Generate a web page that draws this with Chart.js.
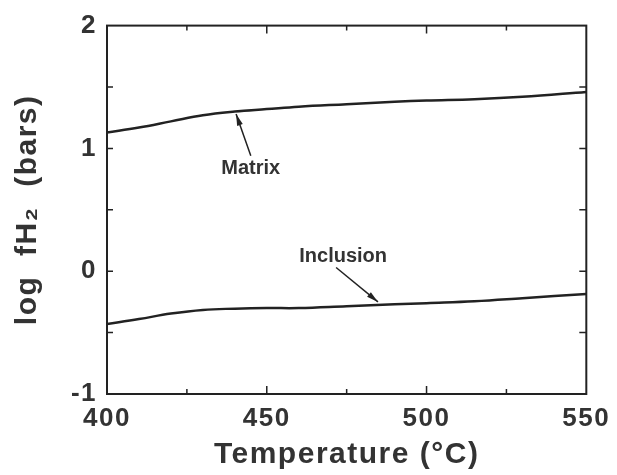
<!DOCTYPE html>
<html>
<head>
<meta charset="utf-8">
<script src="https://cdn.jsdelivr.net/npm/chart.js@4.4.1/dist/chart.umd.min.js"></script>
<style>
html, body { margin: 0; padding: 0; background: #fff; }
#wrap { width: 617px; height: 475px; }
</style>
</head>
<body>
<div id="wrap"><canvas id="fh2Chart"></canvas></div>
<script>
// values
const temps = [400, 410, 420, 430, 440, 450, 460, 475, 490, 500, 515, 530, 550];
const matrixLogF = [1.13, 1.17, 1.22, 1.27, 1.30, 1.32, 1.34, 1.36, 1.38, 1.39, 1.40, 1.42, 1.46];
const inclusionLogF = [-0.43, -0.39, -0.345, -0.315, -0.305, -0.30, -0.30, -0.285, -0.27, -0.26, -0.245, -0.22, -0.185];
const xMinorTicks = [425, 475, 525];
const xMajorTicks = [450, 500];
const yInnerTicks = [-0.5, 0, 0.5, 1, 1.5];

// labels with arrows, in data units
const labelNames = ['Matrix', 'Inclusion'];
const labelAt = [[445, 0.84], [473.9, 0.117]];
const arrowFrom = [[445, 0.94], [471.7, 0.03]];
const arrowTo = [[440.4, 1.28], [484.8, -0.25]];

const FONT = '"Liberation Sans", Arial, Helvetica, sans-serif';
const INK = '#222';
const TEXT = '#333';

const toPoints = (xs, ys) => xs.map((x, i) => ({ x: x, y: ys[i] }));

const framePlugin = {
    id: 'frame',
    beforeDraw(chart) {
        // the printed figure has slightly spaced lettering
        chart.ctx.letterSpacing = '1.5px';
    },
    beforeDatasetsDraw(chart) {
        chart.ctx.letterSpacing = '0px';
    },
    afterDraw(chart) {
        const ctx = chart.ctx;
        const a = chart.chartArea;
        const sx = chart.scales.x;
        const sy = chart.scales.y;
        ctx.save();
        ctx.letterSpacing = '0px';
        ctx.strokeStyle = INK;
        ctx.lineWidth = 2;
        ctx.strokeRect(a.left, a.top, a.right - a.left, a.bottom - a.top);

        // inward ticks on all sides
        ctx.lineWidth = 1.5;
        ctx.beginPath();
        xMajorTicks.concat(xMinorTicks).forEach(v => {
            const px = sx.getPixelForValue(v);
            const len = xMajorTicks.includes(v) ? 8 : 5;
            ctx.moveTo(px, a.bottom);
            ctx.lineTo(px, a.bottom - len);
            ctx.moveTo(px, a.top);
            ctx.lineTo(px, a.top + len);
        });
        yInnerTicks.forEach(v => {
            const py = sy.getPixelForValue(v);
            ctx.moveTo(a.left, py);
            ctx.lineTo(a.left + 6, py);
            ctx.moveTo(a.right, py);
            ctx.lineTo(a.right - 7, py);
        });
        ctx.stroke();

        // labels and arrows
        ctx.font = 'bold 20px ' + FONT;
        ctx.textAlign = 'center';
        ctx.textBaseline = 'middle';
        labelNames.forEach((name, i) => {
            ctx.fillStyle = TEXT;
            ctx.fillText(name, sx.getPixelForValue(labelAt[i][0]), sy.getPixelForValue(labelAt[i][1]));
            const x0 = sx.getPixelForValue(arrowFrom[i][0]);
            const y0 = sy.getPixelForValue(arrowFrom[i][1]);
            const x1 = sx.getPixelForValue(arrowTo[i][0]);
            const y1 = sy.getPixelForValue(arrowTo[i][1]);
            const ang = Math.atan2(y1 - y0, x1 - x0);
            ctx.strokeStyle = INK;
            ctx.lineWidth = 1.5;
            ctx.beginPath();
            ctx.moveTo(x0, y0);
            ctx.lineTo(x1, y1);
            ctx.stroke();
            ctx.fillStyle = INK;
            ctx.beginPath();
            ctx.moveTo(x1, y1);
            ctx.lineTo(x1 - 12 * Math.cos(ang - 0.25), y1 - 12 * Math.sin(ang - 0.25));
            ctx.lineTo(x1 - 12 * Math.cos(ang + 0.25), y1 - 12 * Math.sin(ang + 0.25));
            ctx.closePath();
            ctx.fill();
        });
        ctx.restore();
    }
};

const ctx = document.getElementById('fh2Chart').getContext('2d');
new Chart(ctx, {
    type: 'line',
    data: {
        datasets: [
            {
                label: 'Matrix',
                data: toPoints(temps, matrixLogF),
                borderColor: INK,
                borderWidth: 2.5,
                pointRadius: 0,
                tension: 0.4,
                fill: false
            },
            {
                label: 'Inclusion',
                data: toPoints(temps, inclusionLogF),
                borderColor: INK,
                borderWidth: 2.5,
                pointRadius: 0,
                tension: 0.4,
                fill: false
            }
        ]
    },
    options: {
        responsive: true,
        maintainAspectRatio: false,
        animation: false,
        layout: { padding: { top: 21, right: 27, left: 0, bottom: 0 } },
        plugins: {
            legend: { display: false },
            tooltip: { enabled: false }
        },
        scales: {
            x: {
                type: 'linear',
                min: 400,
                max: 550,
                afterFit: s => { s.height = 81; },
                grid: { display: false, drawTicks: false },
                border: { display: false },
                ticks: {
                    stepSize: 50,
                    padding: 9,
                    maxRotation: 0,
                    color: TEXT,
                    font: { family: FONT, size: 26, weight: 'bold' }
                },
                title: {
                    display: true,
                    text: 'Temperature (°C)',
                    color: TEXT,
                    padding: { top: 0, bottom: 2 },
                    font: { family: FONT, size: 30, weight: 'bold' }
                }
            },
            y: {
                min: -1,
                max: 2,
                afterFit: s => { s.width = 107; },
                grid: { display: false, drawTicks: false },
                border: { display: false },
                ticks: {
                    stepSize: 1,
                    padding: 10,
                    color: TEXT,
                    font: { family: FONT, size: 26, weight: 'bold' }
                },
                title: {
                    display: true,
                    text: 'log  fH₂  (bars)',
                    color: TEXT,
                    padding: { top: 10, bottom: 0 },
                    font: { family: FONT, size: 30, weight: 'bold' }
                }
            }
        }
    },
    plugins: [framePlugin]
});
</script>
</body>
</html>
